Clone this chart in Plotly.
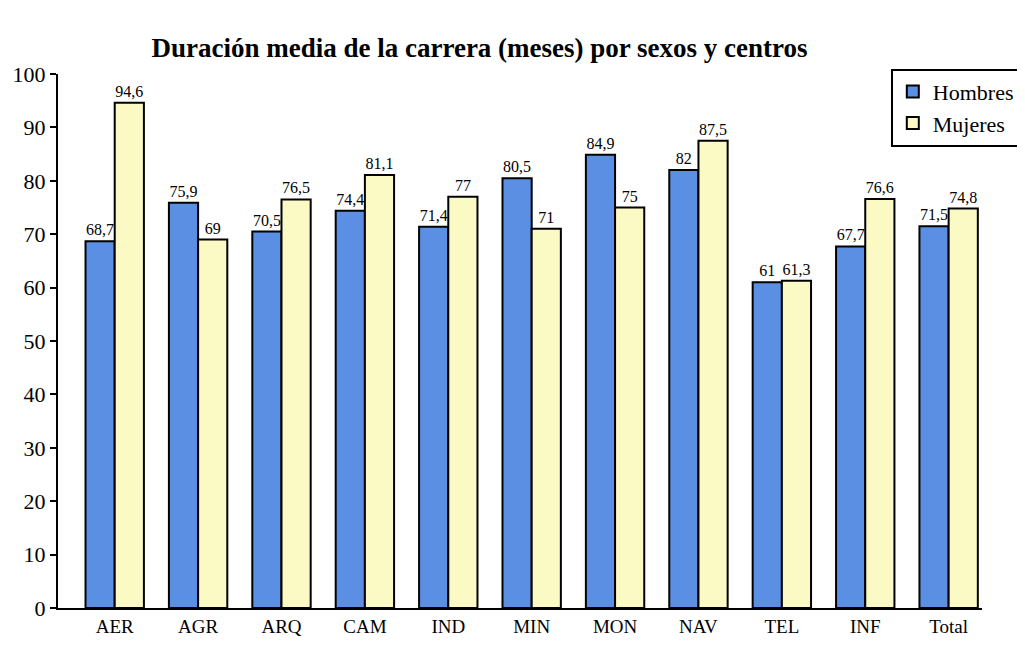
import plotly.graph_objects as go

# datos
centros = ['AER', 'AGR', 'ARQ', 'CAM', 'IND', 'MIN', 'MON', 'NAV', 'TEL', 'INF', 'Total']
hombres = [68.7, 75.9, 70.5, 74.4, 71.4, 80.5, 84.9, 82, 61, 67.7, 71.5]
mujeres = [94.6, 69, 76.5, 81.1, 77, 71, 75, 87.5, 61.3, 76.6, 74.8]

fuente = 'Liberation Serif, Times New Roman, serif'


def etiqueta(v):
    # formato con coma decimal
    return ('%g' % v).replace('.', ',')


fig = go.Figure()
fig.add_trace(go.Bar(
    x=centros, y=hombres, name='Hombres',
    marker=dict(color='#5b8fe3', line=dict(color='black', width=2)),
    text=[etiqueta(v) for v in hombres], textposition='outside',
    textfont=dict(family=fuente, size=16, color='black'),
    cliponaxis=False,
))
fig.add_trace(go.Bar(
    x=centros, y=mujeres, name='Mujeres',
    marker=dict(color='#fbfac4', line=dict(color='black', width=2)),
    text=[etiqueta(v) for v in mujeres], textposition='outside',
    textfont=dict(family=fuente, size=16, color='black'),
    cliponaxis=False,
))

fig.update_layout(
    width=1025, height=651,
    barmode='group', bargap=0.3, bargroupgap=0,
    plot_bgcolor='white', paper_bgcolor='white',
    margin=dict(l=50, r=40, t=66, b=51),
    font=dict(family=fuente, color='black'),
    title=dict(text='<b>Duración media de la carrera (meses) por sexos y centros</b>',
               x=0.46, xanchor='center', y=0.94, yanchor='middle',
               font=dict(family=fuente, size=27, color='black')),
    legend=dict(x=1.042, xanchor='right', y=1.01, yanchor='top',
                bordercolor='black', borderwidth=2, bgcolor='white',
                font=dict(family=fuente, size=22), tracegroupgap=2),
    xaxis=dict(range=[-0.68, 10.4], showline=True, linecolor='black', linewidth=2,
               ticks='', tickfont=dict(family=fuente, size=19), showgrid=False,
               automargin=False),
    yaxis=dict(range=[0, 100], dtick=10, showline=True, linecolor='black', linewidth=2,
               ticks='outside', ticklen=6, tickwidth=2, tickcolor='black',
               tickfont=dict(family=fuente, size=22), showgrid=False, zeroline=False,
               automargin=False),
)

fig.write_html('out.html')
